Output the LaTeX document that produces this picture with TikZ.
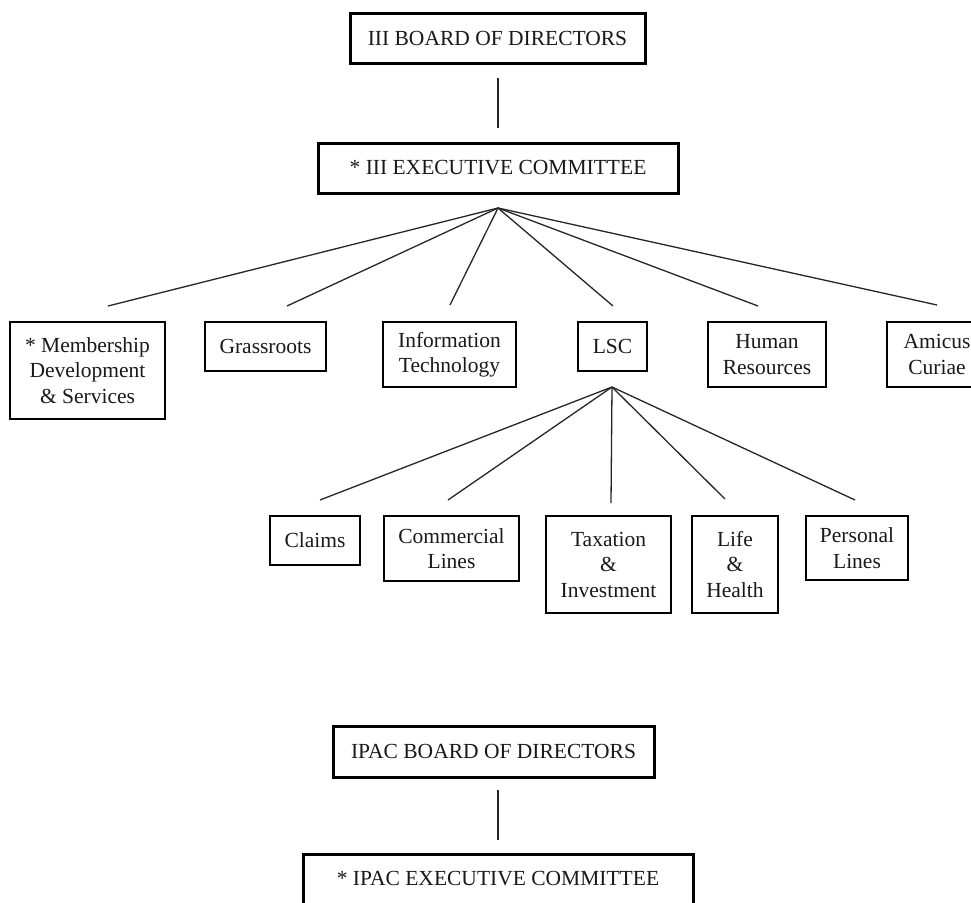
\documentclass[tikz,border=0pt]{standalone}
\usepackage{fontspec}
\setmainfont{Liberation Serif}
\usepackage{tikz}

\begin{document}
\begin{tikzpicture}[x=1pt,y=-1pt,
  box/.style={draw, line width=1.6pt, align=center, inner sep=0pt, text=black!90, font=\fontsize{21.5}{25.5}\selectfont},
  topbox/.style={box, line width=3pt},
  link/.style={line width=1.3pt, color=black!85}]
\def\W{971};\def\H{902};
\fill[white] (0,0) rectangle (\W,\H);
\useasboundingbox (0,0) rectangle (\W,\H);
\clip (0,0) rectangle (\W,\H);
% \draw[help lines, color=gray!30, dashed, step=50] (0,0) grid (\W,\H);
\node[topbox, minimum width=295, minimum height=50] (iiibod) at (497.5,38) {III BOARD OF DIRECTORS};
\node[topbox, minimum width=360, minimum height=50] (iiiexec) at (498,168) {* III EXECUTIVE COMMITTEE};
\node[box, minimum width=155, minimum height=97] (memb) at (87.5,370.5) {* Membership\\Development\\\& Services};
\node[box, minimum width=121, minimum height=49] (grass) at (265.5,346.5) {Grassroots};
\node[box, minimum width=133, minimum height=65] (it) at (449.5,354.5) {Information\\Technology};
\node[box, minimum width=69, minimum height=49] (lsc) at (612.5,346.5) {LSC};
\node[box, minimum width=118, minimum height=65] (hr) at (767,354.5) {Human\\Resources};
\node[box, minimum width=100, minimum height=65] (amicus) at (937,354.5) {Amicus\\Curiae};
\node[box, minimum width=90, minimum height=49] (claims) at (315,540.5) {Claims};
\node[box, minimum width=135, minimum height=65] (comm) at (451.5,548.5) {Commercial\\Lines};
\node[box, minimum width=125, minimum height=97] (tax) at (608.5,564.5) {Taxation\\\&\\Investment};
\node[box, minimum width=86, minimum height=97] (life) at (735,564.5) {Life\\\&\\Health};
\node[box, minimum width=102, minimum height=64] (pers) at (857,548) {Personal\\Lines};
\node[topbox, minimum width=321, minimum height=51] (ipacbod) at (493.5,751.5) {IPAC BOARD OF DIRECTORS};
\node[topbox, minimum width=390, minimum height=50] (ipacexec) at (498,879) {* IPAC EXECUTIVE COMMITTEE};
% free ends of the connectors
\coordinate (iiitop) at (498,78); \coordinate (iiibot) at (498,128);
\coordinate (apex) at (498,208);
\coordinate (e1) at (108,306); \coordinate (e2) at (287,306); \coordinate (e3) at (450,305);
\coordinate (e4) at (613,306); \coordinate (e5) at (758,306); \coordinate (e6) at (937,305);
\coordinate (lscapex) at (612,387);
\coordinate (f1) at (320,500); \coordinate (f2) at (448,500); \coordinate (f3) at (611,503);
\coordinate (f4) at (725,499); \coordinate (f5) at (855,500);
\coordinate (ipactop) at (498,790); \coordinate (ipacbot) at (498,840);
\draw[link] (iiitop)--(iiibot);
\foreach \e in {e1,e2,e3,e4,e5,e6} \draw[link] (apex)--(\e);
\foreach \f in {f1,f2,f3,f4,f5} \draw[link] (lscapex)--(\f);
\draw[link] (ipactop)--(ipacbot);
\end{tikzpicture}
\end{document}
